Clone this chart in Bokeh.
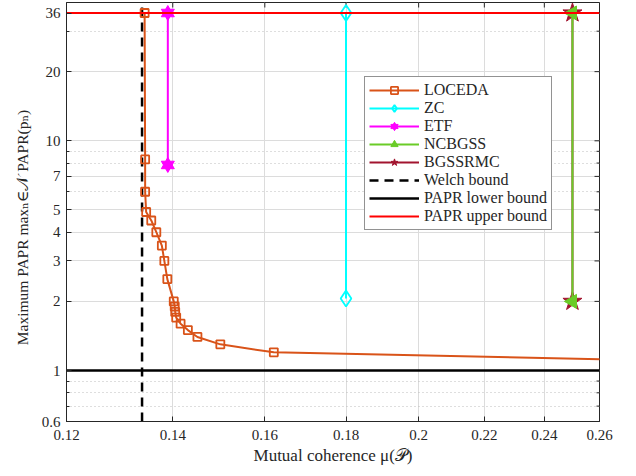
import math
from bokeh.plotting import figure
from bokeh.models import (FixedTicker, Legend, LegendItem, Range1d)
from bokeh.embed import file_html
from bokeh.resources import INLINE

# ---------------- data ----------------
x_limits = [0.12, 0.26]
y_limits = [0.6, 40]

x_ticks = [0.12, 0.14, 0.16, 0.18, 0.2, 0.22, 0.24, 0.26]
x_tick_labels = ["0.12", "0.14", "0.16", "0.18", "0.2", "0.22", "0.24", "0.26"]
y_ticks = [0.6, 1, 2, 3, 4, 5, 7, 10, 20, 36]
y_tick_labels = ["0.6", "1", "2", "3", "4", "5", "7", "10", "20", "36"]
y_minor_ticks = [0.7, 0.8, 0.9, 6, 8, 9, 30]

loceda_x = [0.1344, 0.1345, 0.1345, 0.1347, 0.1357, 0.1367, 0.1378, 0.1383,
            0.1389, 0.1402, 0.1404, 0.1405, 0.1407, 0.1416, 0.1431, 0.1451,
            0.1500, 0.1621, 0.2800]
loceda_y = [36, 8.3, 6.0, 4.9, 4.5, 4.0, 3.5, 3.0, 2.5, 2.0, 1.9, 1.8, 1.7,
            1.6, 1.5, 1.4, 1.3, 1.2, 1.108]

zc_x = [0.18, 0.18]
zc_y = [36, 2.06]
etf_x = [0.139, 0.139]
etf_y = [36, 7.85]
ncbgss_x = [0.25, 0.25]
ncbgss_y = [36, 2.0]
bgssrmc_x = [0.25, 0.25]
bgssrmc_y = [36, 2.0]

welch_bound = 0.1339
papr_lower = 1
papr_upper = 36

labels = ["LOCEDA", "ZC", "ETF", "NCBGSS", "BGSSRMC", "Welch bound",
          "PAPR lower bound", "PAPR upper bound"]

# ---------------- styles ----------------
FONT = "'Liberation Serif', 'DejaVu Serif', serif"
AX = "#262626"
C_LOC = "#D95319"
C_ZC = "#00FFFF"
C_ETF = "#FF00FF"
C_NC = "#6ACC27"
C_BG = "#A2142F"

p = figure(frame_width=533, frame_height=419, x_axis_type="log",
           y_axis_type="log",
           x_range=Range1d(*x_limits), y_range=Range1d(*y_limits),
           output_backend="svg", toolbar_location=None,
           min_border_left=66, min_border_right=21, min_border_top=2,
           min_border_bottom=40)
p.background_fill_color = "white"
p.border_fill_color = "white"
p.outline_line_color = AX
p.outline_line_width = 1

xt = FixedTicker(ticks=x_ticks, minor_ticks=[])
yt = FixedTicker(ticks=y_ticks, minor_ticks=y_minor_ticks)

def style_axis(ax, ticker, labels_map, label_size):
    ax.ticker = ticker
    ax.axis_line_color = AX
    ax.major_tick_line_color = AX
    ax.minor_tick_line_color = AX
    ax.major_tick_in = 5
    ax.major_tick_out = 0
    ax.minor_tick_in = 3
    ax.minor_tick_out = 0
    ax.major_label_overrides = labels_map
    ax.major_label_text_font = FONT
    ax.major_label_text_font_size = "15px"
    ax.major_label_text_color = AX
    ax.axis_label_text_font = FONT
    ax.axis_label_text_font_size = label_size
    ax.axis_label_text_font_style = "normal"
    ax.axis_label_text_color = AX

style_axis(p.xaxis[0], xt, dict(zip(x_ticks, x_tick_labels)), "17px")
style_axis(p.yaxis[0], yt, dict(zip(y_ticks, y_tick_labels)), "15.5px")
p.xaxis[0].axis_label = "Mutual coherence μ(𝒫)"
p.yaxis[0].axis_label = "Maximum PAPR maxₙ∈𝒩 PAPR(pₙ)\u2003\u2003"
p.xaxis[0].major_label_standoff = 8
p.xaxis[0].axis_label_standoff = 3
p.yaxis[0].major_label_standoff = 6
p.yaxis[0].axis_label_standoff = 8

p.xgrid[0].ticker = xt
p.ygrid[0].ticker = yt
for g in (p.xgrid[0], p.ygrid[0]):
    g.grid_line_color = "#DCDCDC"
    g.grid_line_width = 1
p.ygrid[0].minor_grid_line_color = "#BDBDBD"
p.ygrid[0].minor_grid_line_dash = "1 3"
p.ygrid[0].minor_grid_line_width = 1

# inward ticks on the top and right edges (box on)
p.scatter([x_limits[1]] * len(y_ticks), y_ticks, marker="dash", size=10,
          line_color=AX, line_width=1)
p.scatter([x_limits[1]] * len(y_minor_ticks), y_minor_ticks, marker="dash",
          size=6, line_color=AX, line_width=1)
p.scatter(x_ticks, [y_limits[1]] * len(x_ticks), marker="dash", size=10,
          angle=math.pi / 2, line_color=AX, line_width=1)

# ---------------- bounds (under data) ----------------
r_welch = p.line([welch_bound, welch_bound], y_limits, line_color="black",
                 line_width=2.5, line_dash="9 6")
r_low = p.line(x_limits, [papr_lower, papr_lower], line_color="black",
               line_width=2.5)

# ---------------- data series ----------------
r_loc_l = p.line(loceda_x, loceda_y, line_color=C_LOC, line_width=2)
r_loc_m = p.scatter(loceda_x, loceda_y, marker="square", size=8,
                    line_color=C_LOC, line_width=1.8, fill_alpha=0)

r_zc_l = p.line(zc_x, zc_y, line_color=C_ZC, line_width=2)
r_zc_m = p.scatter(zc_x, zc_y, marker="diamond", size=16, line_color=C_ZC,
                   line_width=1.8, fill_alpha=0)

r_etf_l = p.line(etf_x, etf_y, line_color=C_ETF, line_width=2)
r_etf_m1 = p.scatter(etf_x, etf_y, marker="triangle", size=13,
                     line_color=C_ETF, fill_color=C_ETF, line_width=1)
r_etf_m2 = p.scatter(etf_x, etf_y, marker="inverted_triangle", size=13,
                     line_color=C_ETF, fill_color=C_ETF, line_width=1)

r_bg_l = p.line(bgssrmc_x, bgssrmc_y, line_color=C_BG, line_width=2)
r_bg_m = p.scatter(bgssrmc_x, bgssrmc_y, marker="star", size=20,
                   line_color=C_BG, fill_color=C_BG, line_width=1)

r_nc_l = p.line(ncbgss_x, ncbgss_y, line_color=C_NC, line_width=2)
r_nc_m = p.scatter(ncbgss_x, ncbgss_y, marker="triangle", size=14,
                   angle=math.pi / 2, angle_units="rad", line_color=C_NC,
                   fill_color=C_NC, line_width=1)

r_up = p.line(x_limits, [papr_upper, papr_upper], line_color="#FF0000",
              line_width=2)

items = [
    LegendItem(label=labels[0], renderers=[r_loc_l, r_loc_m]),
    LegendItem(label=labels[1], renderers=[r_zc_l, r_zc_m]),
    LegendItem(label=labels[2], renderers=[r_etf_l, r_etf_m1, r_etf_m2]),
    LegendItem(label=labels[3], renderers=[r_nc_l, r_nc_m]),
    LegendItem(label=labels[4], renderers=[r_bg_l, r_bg_m]),
    LegendItem(label=labels[5], renderers=[r_welch]),
    LegendItem(label=labels[6], renderers=[r_low]),
    LegendItem(label=labels[7], renderers=[r_up]),
]
legend = Legend(items=items, location=(298, 191))
legend.label_text_font = FONT
legend.label_text_font_size = "16px"
legend.label_text_color = AX
legend.glyph_width = 50
legend.glyph_height = 18
legend.label_height = 18
legend.spacing = 0
legend.padding = 4
legend.margin = 0
legend.label_standoff = 5
legend.border_line_color = AX
legend.border_line_width = 1
legend.background_fill_alpha = 1
p.add_layout(legend)

open("out.html", "w").write(file_html(p, INLINE))
